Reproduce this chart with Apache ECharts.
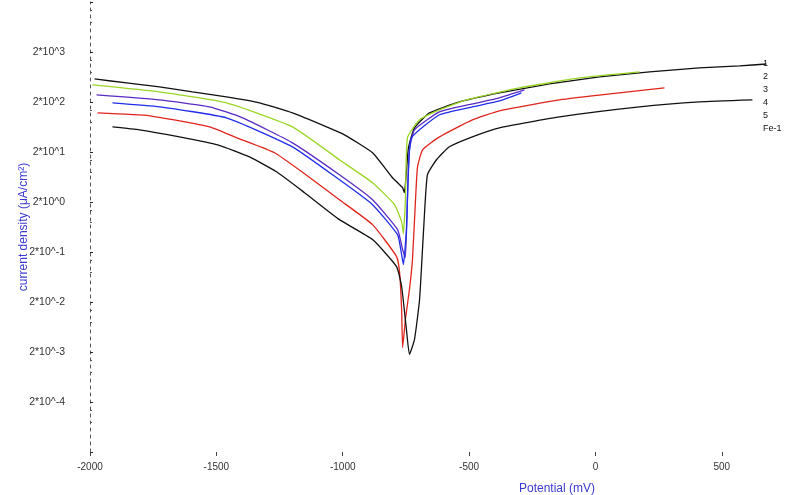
<!DOCTYPE html>
<html>
<head>
<meta charset="utf-8">
<script src="https://cdn.jsdelivr.net/npm/echarts@6/dist/echarts.min.js"></script>
<style>
  html, body { margin: 0; padding: 0; background: #fff; }
  #chart { width: 788px; height: 495px; }
</style>
</head>
<body>
<div id="chart"></div>
<script>
// Potentiodynamic polarization (Tafel) curves: [potential mV, current density uA/cm2]
const seriesNames = ['1', '2', '3', '4', '5', 'Fe-1'];
const seriesColors = ['#111111', '#9ad626', '#5a2bc4', '#1f2ee8', '#e0241c', '#111111'];

const curve1 = [
  [-1982, 578], [-1855, 481], [-1725, 400], [-1594, 318], [-1460, 253], [-1329, 192],
  [-1199, 121], [-1064, 63.7], [-993, 44.1], [-882, 19.3], [-803, 6.11], [-763, 3.86],
  [-756, 3.07], [-748, 8.05], [-740, 24.3], [-716, 60.8], [-657, 121], [-538, 201],
  [-380, 304], [-182, 459], [16, 634], [214, 798], [411, 959], [570, 1052], [676, 1152]
];
const curve2 = [
  [-1990, 439], [-1725, 318], [-1460, 192], [-1199, 63.7], [-1013, 14.0], [-882, 4.86],
  [-795, 1.77], [-767, 0.809], [-760, 0.466], [-752, 2.22], [-744, 38.4], [-696, 87.9],
  [-617, 139], [-510, 220], [-301, 382], [-63, 605], [174, 798]
];
const curve3 = [
  [-1974, 277], [-1725, 220], [-1527, 160], [-1396, 96.3], [-1199, 30.5], [-1013, 7.01],
  [-882, 2.22], [-783, 0.560], [-763, 0.223], [-752, 0.155], [-744, 2.22], [-736, 22.1],
  [-716, 55.5], [-617, 127], [-487, 183], [-380, 242], [-281, 349]
];
const curve4 = [
  [-1911, 192], [-1725, 160], [-1460, 96.3], [-1199, 25.4], [-1013, 5.57], [-882, 1.77],
  [-783, 0.445], [-767, 0.177], [-760, 0.112], [-748, 0.560], [-740, 8.83], [-728, 38.4],
  [-617, 111], [-487, 160], [-380, 210], [-293, 304]
];
const curve5 = [
  [-1970, 121], [-1764, 106], [-1527, 63.7], [-1408, 36.6], [-1270, 19.3], [-1151, 7.34],
  [-1013, 2.22], [-882, 0.705], [-787, 0.162], [-775, 0.0776], [-767, 0.0142], [-763, 0.00247],
  [-752, 0.00895], [-736, 0.0356], [-724, 0.141], [-712, 2.22], [-704, 10.1], [-684, 22.1],
  [-617, 40.2], [-487, 87.9], [-380, 133], [-142, 220], [95, 304], [273, 382]
];
const curve6 = [
  [-1911, 63.7], [-1804, 55.5], [-1646, 40.2], [-1495, 27.9], [-1369, 16.0], [-1262, 8.05],
  [-1151, 3.07], [-1013, 0.887], [-882, 0.354], [-787, 0.102], [-767, 0.0408], [-748, 0.00565],
  [-736, 0.00179], [-716, 0.00357], [-696, 0.0224], [-680, 0.560], [-665, 7.01], [-629, 14.0],
  [-578, 25.4], [-487, 40.2], [-380, 60.8], [-142, 101], [174, 160], [411, 201], [621, 220]
];
const curves = [curve1, curve2, curve3, curve4, curve5, curve6];

// axis settings
const potentialTicks = [-2000, -1500, -1000, -500, 0, 500];
const currentMin = 2e-5, currentMax = 2e4;
const labelledExponents = [-4, -3, -2, -1, 0, 1, 2, 3];

const chart = echarts.init(document.getElementById('chart'), null, { renderer: 'canvas' });

chart.setOption({
  animation: false,
  backgroundColor: '#ffffff',
  textStyle: { fontFamily: 'Liberation Sans, Arial, sans-serif' },
  grid: { left: 90, right: 3, top: 2, bottom: 43, containLabel: false },
  title: {
    text: 'Potential (mV)',
    left: 514, top: 478,
    textStyle: { color: '#3a3ad0', fontSize: 12, fontWeight: 'normal' }
  },
  legend: {
    orient: 'vertical',
    left: 757, top: 54,
    itemWidth: 0, itemHeight: 0, itemGap: 4,
    icon: 'rect',
    data: seriesNames,
    textStyle: { color: '#111', fontSize: 9, padding: [0, 0, 0, -4] },
    selectedMode: false
  },
  xAxis: {
    type: 'value',
    min: -2000, max: 750, interval: 500,
    axisLine: { show: false, onZero: false },
    axisTick: { show: true, length: 4, lineStyle: { color: '#444' } },
    splitLine: { show: false },
    axisLabel: {
      showMaxLabel: false,
      color: '#333', fontSize: 10, margin: 10,
      formatter: v => (potentialTicks.indexOf(v) >= 0 ? String(v) : '')
    }
  },
  yAxis: {
    type: 'log',
    logBase: 10,
    min: currentMin, max: currentMax, interval: 1,
    name: 'current density (\u03bcA/cm\u00b2)',
    nameLocation: 'middle',
    nameGap: 60,
    nameMoveOverlap: false,
    nameTextStyle: { color: '#3a3ad0', fontSize: 12 },
    axisLine: { show: true, onZero: false, lineStyle: { color: '#555', width: 1, type: [3, 4] } },
    axisTick: { show: true, length: 3, inside: true, lineStyle: { color: '#222' } },
    minorTick: { show: true, splitNumber: 3, length: 2, lineStyle: { color: '#555' } },
    splitLine: { show: false },
    axisLabel: {
      color: '#333', fontSize: 10.5, margin: 25,
      formatter: v => {
        const k = Math.round(Math.log10(v / 2));
        return labelledExponents.indexOf(k) >= 0 ? '2*10^' + k : '';
      }
    }
  },
  series: curves.map((d, i) => ({
    name: seriesNames[i],
    type: 'line',
    data: d,
    showSymbol: false,
    smooth: 0.15,
    lineStyle: { color: seriesColors[i], width: 1.3 },
    itemStyle: { color: seriesColors[i] },
    z: 2
  }))
});
</script>
</body>
</html>
